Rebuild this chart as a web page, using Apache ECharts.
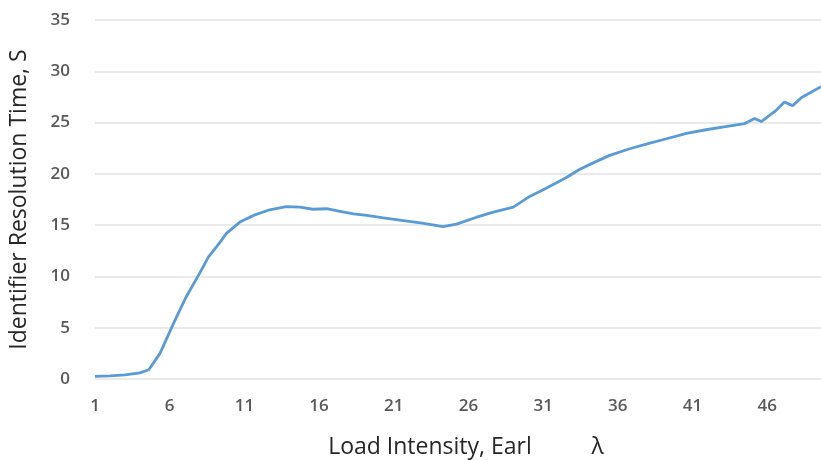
<!DOCTYPE html>
<html>
<head>
<meta charset="utf-8">
<script src="https://cdn.jsdelivr.net/npm/echarts@6/dist/echarts.min.js"></script>
<style>
  html, body { margin: 0; padding: 0; background: #fff; }
  #chart { width: 821px; height: 460px; }
</style>
</head>
<body>
<div id="chart"></div>
<script>
// load intensity (x) and resolution time (y)
const loadIntensity = [1, 2, 3, 4, 4.6, 5.35, 6.25, 7.1, 8.0, 8.6, 9.3, 9.8, 10.7, 11.7, 12.7,
  13.8, 14.7, 15.6, 16.5, 17.4, 18.3, 19.2, 20.3, 21.4, 22.9, 24.3, 25.2, 26.5, 27.6, 29.0,
  30.1, 31.2, 32.5, 33.4, 34.1, 35.45, 36.8, 37.9, 39.2, 40.6, 41.9, 43.2, 44.5, 45.15, 45.6,
  46.15, 46.6, 47.15, 47.7, 48.3, 49.6];
const resolutionTime = [0.25, 0.3, 0.4, 0.6, 0.9, 2.5, 5.4, 8.0, 10.3, 11.9, 13.2, 14.2, 15.3, 16.0, 16.5,
  16.8, 16.75, 16.55, 16.6, 16.35, 16.1, 15.95, 15.7, 15.5, 15.2, 14.85, 15.1, 15.75, 16.25, 16.75,
  17.8, 18.6, 19.6, 20.4, 20.9, 21.8, 22.45, 22.9, 23.4, 23.95, 24.3, 24.6, 24.9, 25.4, 25.1,
  25.7, 26.2, 27.0, 26.65, 27.45, 28.5];

const points = loadIntensity.map((x, i) => [x, resolutionTime[i]]);

const chart = echarts.init(document.getElementById('chart'));
chart.setOption({
  animation: false,
  grid: { left: 95, right: 0, top: 20, bottom: 81, outerBoundsMode: 'none' },
  xAxis: {
    type: 'value',
    min: 1,
    max: 49.6,
    interval: 5,
    name: 'Load Intensity, Earl          λ',
    nameLocation: 'middle',
    nameGap: 57,
    nameTextStyle: { fontFamily: 'Open Sans', fontSize: 23, color: '#262626', padding: [0, 0, 0, 16] },
    axisLine: { show: false },
    axisTick: { show: false },
    splitLine: { show: false },
    axisLabel: {
      showMaxLabel: false,
      margin: 19,
      fontFamily: 'Open Sans',
      fontSize: 17,
      fontWeight: 600,
      color: '#595959'
    }
  },
  yAxis: {
    type: 'value',
    min: 0,
    max: 35,
    interval: 5,
    name: 'Identifier Resolution Time, S',
    nameLocation: 'middle',
    nameGap: 64,
    nameTextStyle: { fontFamily: 'Open Sans', fontSize: 23, color: '#262626' },
    axisLine: { show: false },
    axisTick: { show: false },
    splitLine: { lineStyle: { color: '#e3e3e3', width: 1.5 } },
    axisLabel: {
      margin: 25,
      fontFamily: 'Open Sans',
      fontSize: 17,
      fontWeight: 600,
      color: '#595959'
    }
  },
  series: [{
    type: 'line',
    data: points,
    showSymbol: false,
    lineStyle: { color: '#5b9bd5', width: 2.8 }
  }]
});
</script>
</body>
</html>
